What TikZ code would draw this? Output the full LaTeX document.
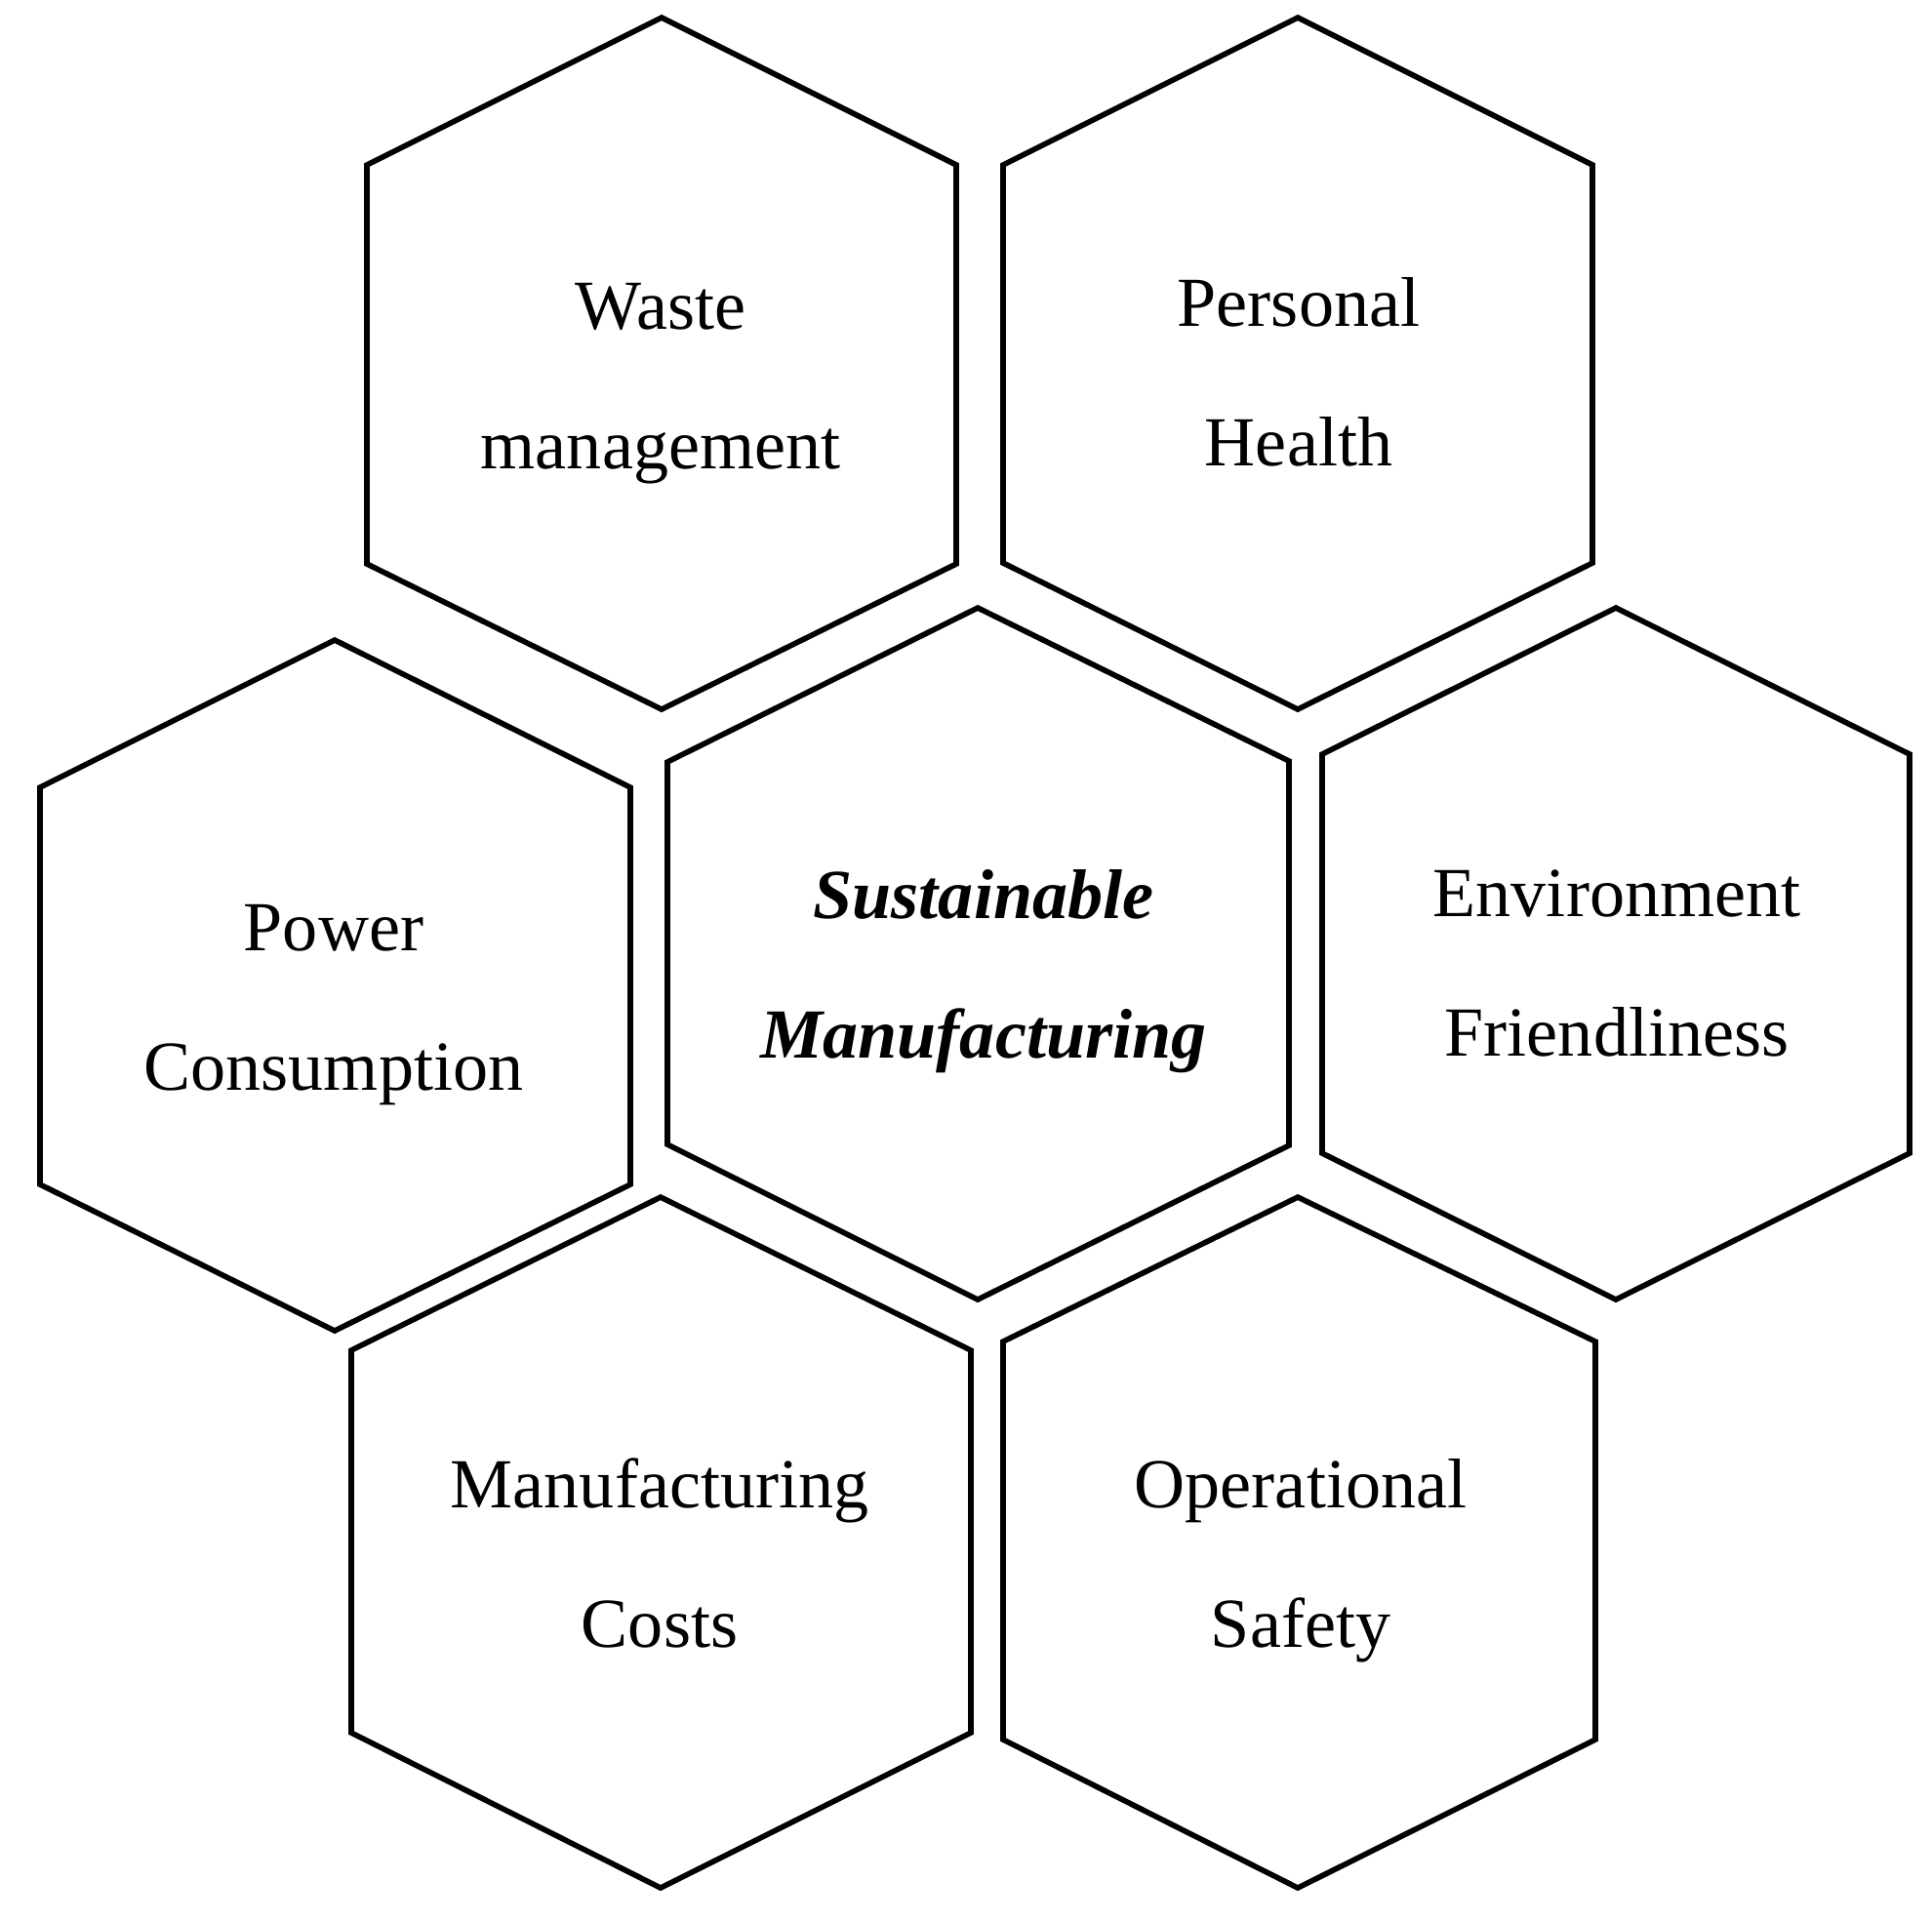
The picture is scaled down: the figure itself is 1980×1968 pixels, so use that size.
\documentclass[tikz,border=0pt]{standalone}
\usepackage{fontspec}
\setmainfont{Liberation Serif}
\begin{document}
\begin{tikzpicture}[x=0.01cm,y=-0.01cm,
  hexline/.style={draw=black,line width=1.6pt,line join=miter},
  lbl/.style={anchor=base,align=center,inner sep=0pt,font=\fontsize{20.5pt}{40.4pt}\selectfont},
  lblc/.style={lbl,font=\fontsize{20.5pt}{40.4pt}\selectfont\bfseries\itshape}]
\useasboundingbox (0,0) rectangle (1980,1968);
% hexagons
\draw[hexline] (678,18) -- (980,169) -- (980,578) -- (678,727) -- (376,578) -- (376,169) -- cycle;
\draw[hexline] (1330,18) -- (1632,169) -- (1632,577) -- (1330,727) -- (1028,577) -- (1028,169) -- cycle;
\draw[hexline] (343,656) -- (646,807) -- (646,1214) -- (343,1364) -- (41,1214) -- (41,807) -- cycle;
\draw[hexline] (1002,623) -- (1321,780) -- (1321,1174) -- (1002,1332) -- (684,1173) -- (684,781) -- cycle;
\draw[hexline] (1656,623) -- (1957,773) -- (1957,1182) -- (1656,1332) -- (1355,1182) -- (1355,773) -- cycle;
\draw[hexline] (677,1227) -- (995,1384) -- (995,1776) -- (677,1935) -- (360,1776) -- (360,1384) -- cycle;
\draw[hexline] (1330,1227) -- (1635,1375) -- (1635,1783) -- (1330,1935) -- (1028,1783) -- (1028,1375) -- cycle;
% labels (anchor = baseline of the last line)
\node[lbl] (waste) at (677,480) {Waste\\management};
\node[lbl] (health) at (1331,477) {Personal\\Health};
\node[lbl] (power) at (342,1117) {Power\\Consumption};
\node[lblc] (sust) at (1008,1084) {Sustainable\\Manufacturing};
\node[lbl] (env) at (1657,1082) {Environment\\Friendliness};
\node[lbl] (cost) at (676,1688) {Manufacturing\\Costs};
\node[lbl] (safe) at (1333,1688) {Operational\\Safety};
\end{tikzpicture}
\end{document}
